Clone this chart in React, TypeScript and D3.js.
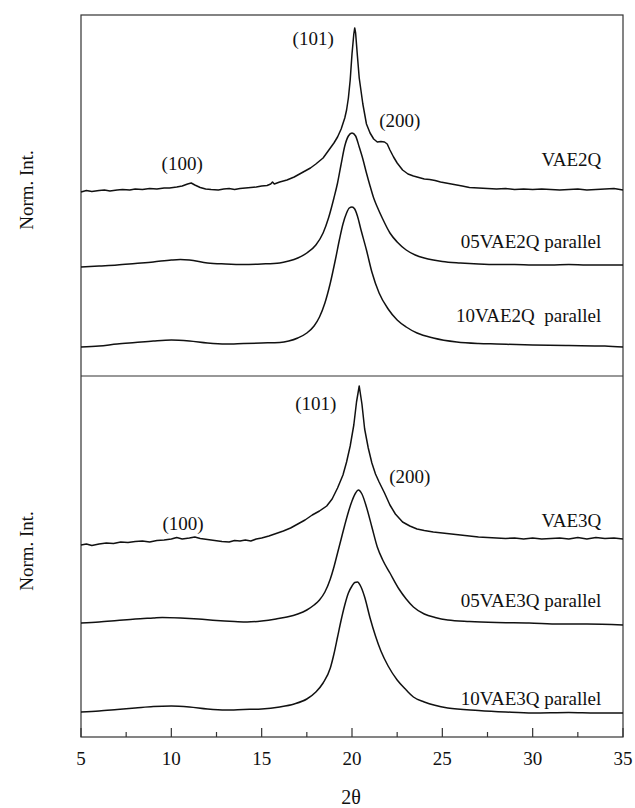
import React from "react";
import * as d3 from "d3";

// 2θ axis
const X_TICKS = [5, 10, 15, 20, 25, 30, 35];
const X_MINOR = [7.5, 12.5, 17.5, 22.5, 27.5, 32.5];

// Top panel series: [2θ, intensity (a.u.)]
const VAE2Q: [number, number][] = [
  [5.0, 184], [5.3, 185.5], [5.6, 184.5], [6.0, 185.5], [6.3, 186], [6.6, 185], [7.0, 186], [7.3, 186.5],
  [7.7, 186], [8.0, 187], [8.4, 186.5], [8.8, 187.5], [9.2, 187], [9.6, 188], [9.9, 188], [10.3, 189],
  [10.6, 190], [10.9, 192], [11.1, 193], [11.3, 191], [11.6, 188.5], [11.9, 187], [12.2, 186.5], [12.6, 186],
  [12.9, 187], [13.2, 187.5], [13.5, 186.5], [13.8, 187.5], [14.1, 188], [14.4, 188.5], [14.7, 189], [15.0, 190],
  [15.3, 190.5], [15.5, 192], [15.6, 194], [15.7, 192], [16.0, 194], [16.4, 196], [16.8, 199], [17.1, 202],
  [17.4, 205], [17.7, 208], [18.0, 212], [18.2, 215], [18.4, 218], [18.6, 223], [18.8, 228], [19.0, 233],
  [19.2, 239], [19.4, 247], [19.6, 258], [19.7, 266], [19.8, 278], [19.9, 296], [20.0, 322], [20.1, 342],
  [20.15, 348], [20.2, 343], [20.3, 320], [20.4, 298], [20.6, 272], [20.8, 252], [21.0, 243], [21.2, 237],
  [21.4, 234], [21.6, 234.5], [21.8, 234], [21.95, 232], [22.1, 226], [22.3, 219], [22.5, 213], [22.8, 206],
  [23.1, 202], [23.4, 200], [23.7, 198.5], [24.0, 197], [24.3, 196.5], [24.6, 195.5], [24.9, 194], [25.2, 193],
  [25.5, 192], [25.8, 191], [26.1, 190], [26.5, 188.5], [27.0, 188], [27.5, 187.5], [28.0, 187], [28.5, 187.5],
  [29.0, 186.5], [29.5, 187], [30.0, 186.5], [30.5, 187], [31.0, 186.5], [31.5, 186], [32.0, 186.5], [32.5, 187],
  [33.0, 186], [33.5, 186.5], [34.0, 187], [34.5, 187.5], [35.0, 186],
];

const VAE2Q_05: [number, number][] = [
  [5.0, 109], [6.0, 110], [7.0, 111], [8.0, 112.5], [9.0, 114], [10.0, 116], [10.5, 116.5], [11.0, 116],
  [12.0, 113], [13.0, 112], [14.0, 111.5], [15.0, 112], [16.0, 113], [16.5, 115], [17.0, 118], [17.5, 123],
  [18.0, 131], [18.4, 143], [18.7, 158], [19.0, 178], [19.2, 193], [19.4, 212], [19.6, 230], [19.8, 240],
  [20.0, 243], [20.2, 240], [20.4, 229], [20.6, 217], [20.8, 203], [21.0, 190], [21.2, 178], [21.4, 169],
  [21.7, 157], [22.1, 143], [22.5, 134], [23.0, 126], [23.5, 121], [24.0, 118], [24.5, 116], [25.0, 114.5],
  [26.0, 113], [27.0, 112], [28.0, 111.5], [29.0, 111.5], [30.0, 111], [31.0, 111], [32.0, 111.5], [33.0, 111],
  [34.0, 111], [35.0, 111],
];

const VAE2Q_10: [number, number][] = [
  [5.0, 29], [6.0, 30], [7.0, 32], [8.0, 33.5], [9.0, 35], [10.0, 36], [11.0, 35], [12.0, 33],
  [13.0, 32], [14.0, 32.5], [15.0, 33], [16.0, 33.5], [16.5, 35], [17.0, 38], [17.5, 43], [17.9, 50],
  [18.2, 59], [18.5, 73], [18.8, 93], [19.1, 118], [19.3, 136], [19.5, 152], [19.7, 163], [19.85, 168],
  [20.0, 169], [20.15, 167], [20.3, 160], [20.5, 146], [20.8, 126], [21.1, 104], [21.5, 83], [22.0, 67],
  [22.5, 56], [23.0, 49], [23.6, 43], [24.5, 38], [25.8, 34], [27.0, 32.5], [28.0, 32], [30.0, 31],
  [32.0, 30.5], [34.0, 30], [35.0, 29],
];

// Bottom panel series
const VAE3Q: [number, number][] = [
  [5.0, 192], [5.3, 193], [5.6, 191.5], [6.0, 193], [6.4, 194], [6.8, 193.5], [7.2, 195], [7.6, 194.5],
  [8.0, 195.5], [8.4, 196], [8.8, 195], [9.2, 196.5], [9.6, 197], [10.0, 198], [10.3, 199.5], [10.6, 198],
  [11.0, 199], [11.3, 200], [11.6, 198.5], [12.0, 197.5], [12.4, 196.5], [12.8, 195.5], [13.2, 195], [13.5, 196.5],
  [13.8, 196], [14.1, 197], [14.4, 196], [14.7, 198], [15.0, 199], [15.4, 201], [15.8, 203.5], [16.2, 206],
  [16.6, 209], [17.0, 213], [17.4, 217], [17.8, 222], [18.2, 226], [18.6, 231], [18.9, 238], [19.2, 249],
  [19.5, 262], [19.7, 275], [19.9, 291], [20.1, 312], [20.25, 335], [20.4, 351], [20.55, 333], [20.7, 308],
  [20.9, 289], [21.1, 274], [21.3, 263], [21.5, 255], [21.8, 244], [22.1, 232], [22.4, 223], [22.8, 215],
  [23.2, 211], [23.6, 208], [24.0, 206.5], [24.5, 205], [25.0, 204], [25.5, 203], [26.0, 202], [26.5, 201],
  [27.0, 200], [27.5, 199.5], [28.0, 199], [28.5, 198.5], [29.0, 199], [29.5, 198], [30.0, 199], [30.5, 198],
  [31.0, 198.5], [31.5, 199], [32.0, 198], [32.5, 199.5], [33.0, 198], [33.5, 199.5], [34.0, 198.5], [34.5, 199],
  [35.0, 198],
];

const VAE3Q_05: [number, number][] = [
  [5.0, 114], [6.0, 115], [7.0, 116.5], [8.0, 118], [9.0, 119], [9.5, 119.5], [10.5, 119], [11.5, 118],
  [12.5, 116.5], [13.5, 115.5], [14.2, 115], [15.0, 116], [15.8, 118], [16.4, 120], [17.0, 123], [17.5, 127],
  [17.9, 132], [18.2, 137], [18.5, 145], [18.8, 158], [19.0, 170], [19.2, 184], [19.4, 198], [19.6, 212],
  [19.8, 225], [20.0, 236], [20.2, 244], [20.35, 247], [20.55, 243], [20.8, 230], [21.1, 210], [21.4, 190],
  [21.7, 177], [22.1, 164], [22.6, 148], [23.0, 138], [23.4, 130], [24.0, 123], [24.6, 119.5], [25.3, 117],
  [26.5, 115.5], [28.0, 114.5], [29.8, 114], [31.5, 113], [33.0, 113], [35.0, 112],
];

const VAE3Q_10: [number, number][] = [
  [5.0, 25], [6.0, 26], [7.0, 27.5], [8.0, 29], [9.0, 30.5], [10.0, 31], [11.0, 30], [12.0, 28],
  [13.0, 27], [14.0, 27.5], [15.0, 28], [16.0, 30], [16.8, 33], [17.5, 38], [18.0, 45], [18.4, 54],
  [18.8, 69], [19.0, 83], [19.2, 100], [19.4, 117], [19.6, 132], [19.8, 144], [20.0, 151], [20.15, 154.5],
  [20.3, 155], [20.5, 150], [20.7, 140], [21.0, 119], [21.3, 101], [21.6, 86], [22.0, 71], [22.5, 57],
  [23.0, 47], [23.4, 40], [24.0, 35], [25.3, 29], [27.0, 26.5], [28.5, 25], [30.0, 24], [32.0, 24.5],
  [33.5, 24], [35.0, 24],
];

// Annotations: [text, 2θ, intensity, anchor]
const TOP_LABELS: [string, number, number, string][] = [
  ["(100)", 10.6, 206, "middle"],
  ["(101)", 17.85, 331, "middle"],
  ["(200)", 22.65, 249, "middle"],
  ["VAE2Q", 33.8, 210, "end"],
  ["05VAE2Q parallel", 33.8, 128, "end"],
  ["10VAE2Q  parallel", 33.8, 54, "end"],
];
const BOTTOM_LABELS: [string, number, number, string][] = [
  ["(100)", 10.65, 207, "middle"],
  ["(101)", 18.0, 327, "middle"],
  ["(200)", 23.2, 254, "middle"],
  ["VAE3Q", 33.8, 210, "end"],
  ["05VAE3Q parallel", 33.8, 130, "end"],
  ["10VAE3Q parallel", 33.8, 32, "end"],
];

const W = 635;
const H = 808;
const L = 81, R = 623, T = 15, MID = 376, B = 737;
const FONT = "'Liberation Serif', 'Times New Roman', serif";

export default function App() {
  const x = d3.scaleLinear().domain([5, 35]).range([L, R]);
  const yTop = d3.scaleLinear().domain([0, MID - T]).range([MID, T]);
  const yBot = d3.scaleLinear().domain([0, B - MID]).range([B, MID]);

  const mk = (ys: d3.ScaleLinear<number, number>, smooth: boolean) =>
    d3
      .line<[number, number]>()
      .x((d) => x(d[0]))
      .y((d) => ys(d[1]))
      .curve(smooth ? d3.curveMonotoneX : d3.curveLinear);

  const topSeries: [[number, number][], boolean][] = [
    [VAE2Q, false],
    [VAE2Q_05, true],
    [VAE2Q_10, true],
  ];
  const botSeries: [[number, number][], boolean][] = [
    [VAE3Q, false],
    [VAE3Q_05, true],
    [VAE3Q_10, true],
  ];

  return (
    <div style={{ position: "absolute", left: 0, top: 0 }}>
      <svg width={W} height={H} style={{ display: "block", background: "#fff" }}>
        <rect x={0} y={0} width={W} height={H} fill="#fff" />
        {/* frames */}
        <rect x={L} y={T} width={R - L} height={B - T} fill="none" stroke="#333" strokeWidth={1.2} />
        <line x1={L} x2={R} y1={MID} y2={MID} stroke="#333" strokeWidth={1.2} />
        {/* ticks */}
        {X_TICKS.map((t) => (
          <g key={"t" + t}>
            <line x1={x(t)} x2={x(t)} y1={B} y2={B - 9} stroke="#333" strokeWidth={1.2} />
            <text
              x={x(t)}
              y={765}
              textAnchor="middle"
              fontFamily={FONT}
              fontSize={19}
              fill="#111"
            >
              {t}
            </text>
          </g>
        ))}
        {X_MINOR.map((t) => (
          <line key={"m" + t} x1={x(t)} x2={x(t)} y1={B} y2={B - 5} stroke="#333" strokeWidth={1.2} />
        ))}
        <text x={351} y={804} textAnchor="middle" fontFamily={FONT} fontSize={20} fill="#111">
          2θ
        </text>
        {/* y labels */}
        {[190, 551].map((cy, i) => (
          <text
            key={"yl" + i}
            transform={`translate(33,${cy}) rotate(-90)`}
            textAnchor="middle"
            fontFamily={FONT}
            fontSize={19}
            fill="#111"
          >
            Norm. Int.
          </text>
        ))}
        {/* curves */}
        {topSeries.map(([data, smooth], i) => (
          <path
            key={"ts" + i}
            d={mk(yTop, smooth)(data) || ""}
            fill="none"
            stroke="#111"
            strokeWidth={1.5}
            strokeLinejoin="round"
          />
        ))}
        {botSeries.map(([data, smooth], i) => (
          <path
            key={"bs" + i}
            d={mk(yBot, smooth)(data) || ""}
            fill="none"
            stroke="#111"
            strokeWidth={1.5}
            strokeLinejoin="round"
          />
        ))}
        {/* annotations */}
        {TOP_LABELS.map(([s, tx, ty, anchor], i) => (
          <text
            key={"tl" + i}
            x={x(tx)}
            y={yTop(ty)}
            textAnchor={anchor as any}
            fontFamily={FONT}
            fontSize={19}
            fill="#111"
            style={{ whiteSpace: "pre" }}
          >
            {s}
          </text>
        ))}
        {BOTTOM_LABELS.map(([s, tx, ty, anchor], i) => (
          <text
            key={"bl" + i}
            x={x(tx)}
            y={yBot(ty)}
            textAnchor={anchor as any}
            fontFamily={FONT}
            fontSize={19}
            fill="#111"
            style={{ whiteSpace: "pre" }}
          >
            {s}
          </text>
        ))}
      </svg>
    </div>
  );
}
